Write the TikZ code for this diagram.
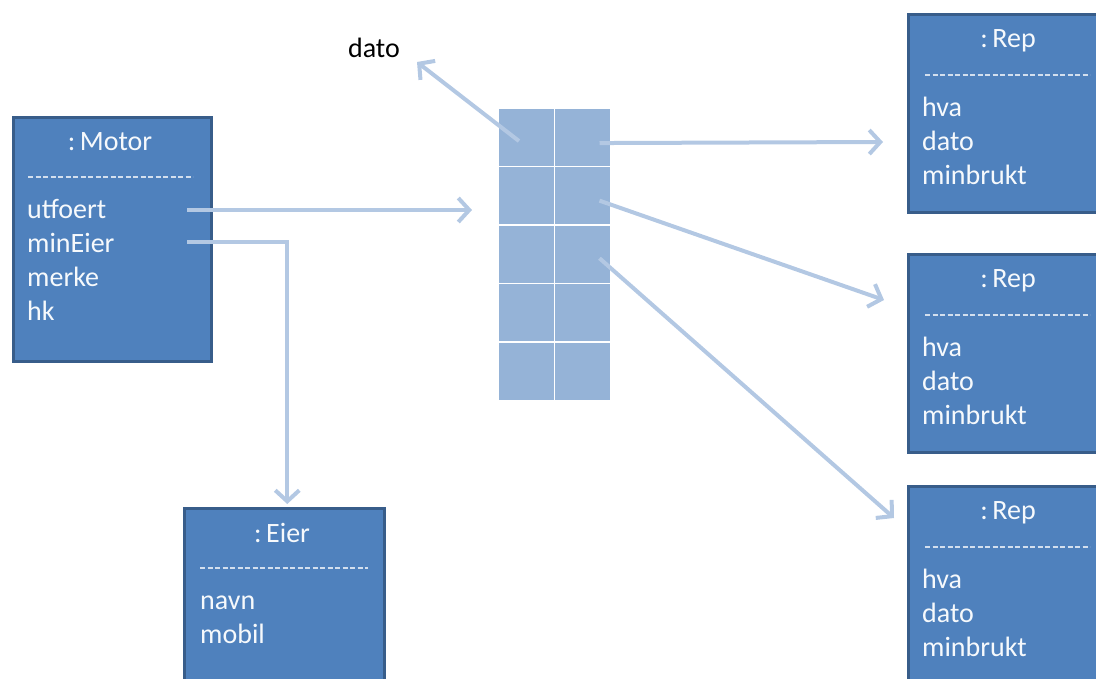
\documentclass[tikz,border=0pt]{standalone}
\usepackage{fontspec}
\setmainfont{Carlito}
\usetikzlibrary{arrows.meta, positioning, calc}

\definecolor{boxfill}{HTML}{4F81BD}
\definecolor{boxline}{HTML}{385D8A}
\definecolor{cellfill}{HTML}{95B3D7}
\definecolor{linkcol}{HTML}{B3C8E3}

\tikzset{
  objbox/.style={draw=boxline, fill=boxfill, line width=2.5pt,
    anchor=north west, inner sep=0pt},
  objtitle/.style={text=white!95!boxfill, font=\fontsize{28}{34}\selectfont,
    anchor=base, inner sep=0pt},
  attr/.style={text=white!95!boxfill, font=\fontsize{28}{34}\selectfont,
    anchor=base west, inner sep=0pt},
  sepline/.style={white!75!boxfill, line width=1.3pt, dash pattern=on 5pt off 2.5pt},
  cell/.style={draw=white, line width=1.5pt, fill=cellfill, inner sep=0pt,
    minimum width=56.5pt, minimum height=58.6pt},
  link/.style={linkcol, line width=4pt,
    -{Straight Barb[length=11pt, width=24pt]}},
}

\begin{document}
\begin{tikzpicture}[x=1pt, y=-1pt]
  \useasboundingbox (0,0) rectangle (1096,678);
  \clip (0,0) rectangle (1096,678);

  % Motor object
  \node[objbox, minimum width=198pt, minimum height=244pt] (motor) at (12,116) {};
  \node[objtitle] (motorname) at (110,150) {:\,Motor};
  \draw[sepline] (28,177) -- (193,177);
  \node[attr] (utfoert) at (27,218) {utfoert};
  \node[attr] (mineier) at (27,252) {minEier};
  \node[attr] (merke) at (27,286) {merke};
  \node[attr] (hk) at (27,320) {hk};
  \coordinate (utfoert-ptr) at (187,210);
  \coordinate (mineier-ptr) at (187,242);

  % Eier object
  \node[objbox, minimum width=200pt, minimum height=200pt] (eier) at (183,507) {};
  \node[objtitle] (eiername) at (282,542) {:\,Eier};
  \draw[sepline] (200,568) -- (368,568);
  \node[attr] (navn) at (200,609) {navn};
  \node[attr] (mobil) at (200,643) {mobil};

  % Rep objects
  \foreach \i/\top in {1/13, 2/253, 3/485} {
    \node[objbox, minimum width=192pt, minimum height=198pt] (rep\i) at (907,\top) {};
    \node[objtitle] (repname\i) at (1008,\top+34) {:\,Rep};
    \draw[sepline] (925,\top+62) -- (1090,\top+62);
    \node[attr] (hva\i) at (922,\top+103) {hva};
    \node[attr] (dato\i) at (922,\top+137) {dato};
    \node[attr] (minbrukt\i) at (922,\top+171) {minbrukt};
  }

  % Array
  \foreach \r in {0,...,4} {
    \foreach \c in {0,1} {
      \node[cell, anchor=north west] (cell-\r-\c) at (497+56.5*\c,107+58.6*\r) {};
    }
  }

  % dato label
  \node[font=\fontsize{28}{34}\selectfont, anchor=base east, inner sep=0pt]
    (datolbl) at (400,57) {dato};

  % Links
  \coordinate (arr-in) at (472,210);
  \draw[link] (utfoert-ptr) -- (arr-in);
  \draw[link] (mineier-ptr) -| ($(eier.north)+(3,-3)$);
  \draw[link] ($(cell-0-0.center)+(-7,4)$) -- ($(datolbl.base east)+(17,5)$);

  \coordinate (rep1-in) at (883,142);
  \coordinate (rep2-in) at (884,300);
  \coordinate (rep3-in) at (894,518);
  \draw[link] ($(cell-0-1.center)+(17,6)$) -- (rep1-in);
  \draw[link] ($(cell-1-1.center)+(17,5)$) -- (rep2-in);
  \draw[link] ($(cell-2-1.center)+(17,4)$) -- (rep3-in);
\end{tikzpicture}
\end{document}
